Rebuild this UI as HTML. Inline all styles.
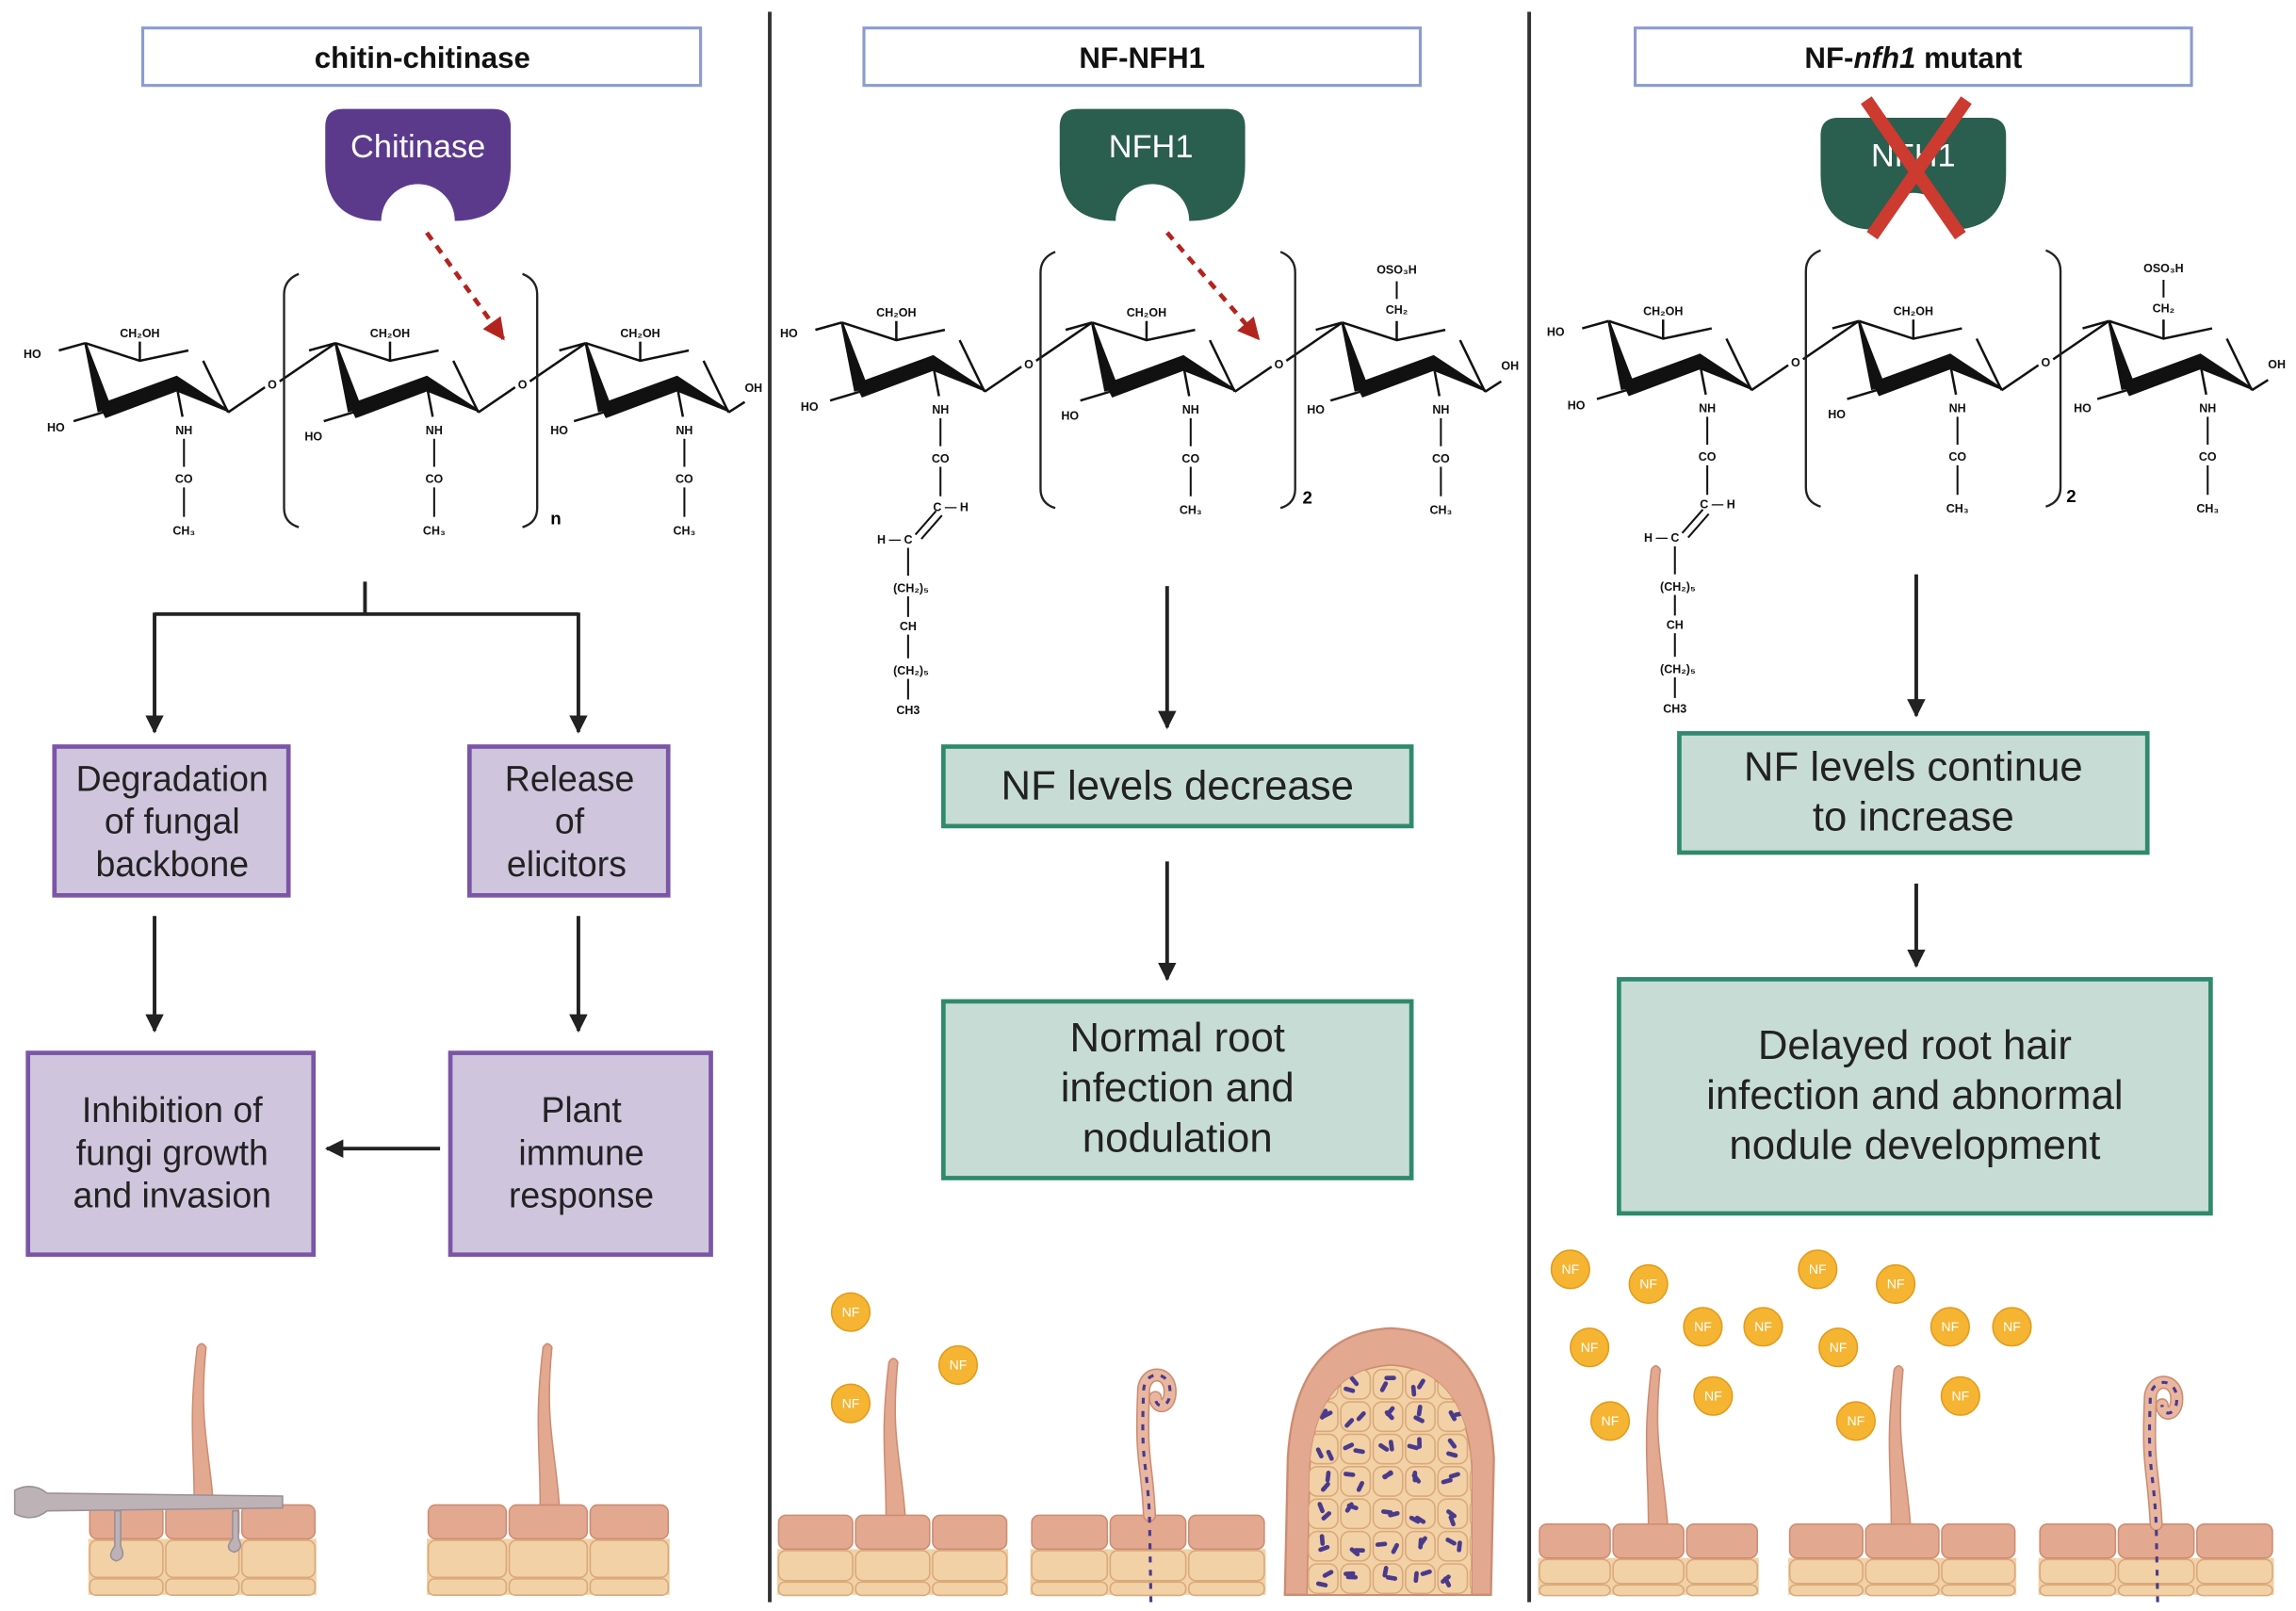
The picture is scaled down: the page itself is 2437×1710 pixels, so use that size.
<!DOCTYPE html>
<html><head><meta charset="utf-8"><style>
html,body{margin:0;padding:0;background:#fff;}
svg{display:block;}
text{font-family:"Liberation Sans",sans-serif;}
.ch{font-size:8px;font-weight:bold;fill:#111;text-anchor:middle;}
.bx{font-size:24px;fill:#222;text-anchor:middle;}
.hd{font-size:20px;font-weight:bold;fill:#111;text-anchor:middle;}
.nf{font-size:9px;fill:#fff;text-anchor:middle;}
</style></head><body>
<svg width="2437" height="1710" viewBox="0 0 1560 1094" preserveAspectRatio="none" xmlns="http://www.w3.org/2000/svg">
<defs>
<marker id="ah" viewBox="0 0 10 10" refX="9" refY="5" markerWidth="5" markerHeight="5" orient="auto"><path d="M0,0 L10,5 L0,10 Z" fill="#222"/></marker>
<marker id="rh" viewBox="0 0 10 10" refX="9" refY="5" markerWidth="5" markerHeight="5" orient="auto"><path d="M0,0 L10,5 L0,10 Z" fill="#b3241f"/></marker>
<clipPath id="nclip"><path d="M888,1083 L890,995 Q895,930 945,927 Q995,930 1000,995 L1000,1083 Z"/></clipPath>
<g id="ring" stroke="#111" stroke-width="1.6" fill="none">
<path d="M0,0 L37,12 L70,5"/>
<path d="M80,12 L97,47"/>
<path d="M0,0 L9,46 L17,44 Z" fill="#111"/>
<path d="M10,42 L62,23 L97,46 L62,32 L14,50 Z" fill="#111"/>
<path d="M-18,5 L0,0"/><path d="M12,47 L-8,53"/>
<path d="M37,12 L37,-1"/><path d="M62,29 L66,50"/>
</g>
<g id="sub" stroke="#111" stroke-width="1.3"><path d="M67,65 L67,84 M67,98 L67,118"/></g>
</defs>

<line x1="523" y1="8" x2="523" y2="1088" stroke="#333" stroke-width="2.5"/>
<line x1="1039" y1="8" x2="1039" y2="1088" stroke="#333" stroke-width="2.5"/>

<rect x="97" y="19" width="379" height="39" fill="#fff" stroke="#8c9bd0" stroke-width="2"/>
<text class="hd" x="287" y="46">chitin-chitinase</text>
<rect x="587" y="19" width="378" height="39" fill="#fff" stroke="#8c9bd0" stroke-width="2"/>
<text class="hd" x="776" y="46">NF-NFH1</text>
<rect x="1111" y="19" width="378" height="39" fill="#fff" stroke="#8c9bd0" stroke-width="2"/>
<text class="hd" x="1300" y="46">NF-<tspan font-style="italic">nfh1</tspan> mutant</text>

<path transform="translate(221,74)" d="M12,0 H114 Q126,0 126,12 V38 Q126,76 88,76 A25,25 0 0 0 38,76 Q0,76 0,38 V12 Q0,0 12,0 Z" fill="#5b3a8c"/>
<text x="284" y="107" font-size="22" fill="#fff" text-anchor="middle">Chitinase</text>
<path transform="translate(720,74)" d="M12,0 H114 Q126,0 126,12 V38 Q126,76 88,76 A25,25 0 0 0 38,76 Q0,76 0,38 V12 Q0,0 12,0 Z" fill="#2a5e4e"/>
<text x="782" y="107" font-size="22" fill="#fff" text-anchor="middle">NFH1</text>
<path transform="translate(1237,80)" d="M12,0 H114 Q126,0 126,12 V38 Q126,76 88,76 A25,25 0 0 0 38,76 Q0,76 0,38 V12 Q0,0 12,0 Z" fill="#2a5e4e"/>
<text x="1300" y="113" font-size="22" fill="#fff" text-anchor="middle">NFH1</text>
<path d="M1268,68 L1332,160 M1336,68 L1272,160" stroke="#cc3a30" stroke-width="9"/>

<line x1="290" y1="158" x2="342" y2="230" stroke="#b3241f" stroke-width="3" stroke-dasharray="6,5" marker-end="url(#rh)"/>
<line x1="793" y1="158" x2="855" y2="230" stroke="#b3241f" stroke-width="3" stroke-dasharray="6,5" marker-end="url(#rh)"/>

<g transform="translate(58,233)"><use href="#ring"/><use href="#sub"/>
<text class="ch" x="37" y="-4">CH₂OH</text><text class="ch" x="-36" y="10">HO</text><text class="ch" x="-20" y="60">HO</text>
<text class="ch" x="67" y="62">NH</text><text class="ch" x="67" y="95">CO</text><text class="ch" x="67" y="130">CH₃</text>
<path d="M97,47 L122,30 M132,26 L170,0" stroke="#111" stroke-width="1.6"/><text class="ch" x="127" y="31">O</text></g>
<g transform="translate(228,233)"><use href="#ring"/><use href="#sub"/>
<text class="ch" x="37" y="-4">CH₂OH</text><text class="ch" x="-15" y="66">HO</text>
<text class="ch" x="67" y="62">NH</text><text class="ch" x="67" y="95">CO</text><text class="ch" x="67" y="130">CH₃</text>
<path d="M97,47 L122,30 M132,26 L170,0" stroke="#111" stroke-width="1.6"/><text class="ch" x="127" y="31">O</text></g>
<g transform="translate(398,233)"><use href="#ring"/><use href="#sub"/>
<text class="ch" x="37" y="-4">CH₂OH</text><text class="ch" x="-18" y="62">HO</text>
<text class="ch" x="67" y="62">NH</text><text class="ch" x="67" y="95">CO</text><text class="ch" x="67" y="130">CH₃</text>
<path d="M97,47 L108,40" stroke="#111" stroke-width="1.6"/><text class="ch" x="114" y="33">OH</text></g>
<path d="M203,186 Q193,190 193,200 V345 Q193,355 203,358 M355,186 Q365,190 365,200 V345 Q365,355 355,358" stroke="#222" stroke-width="1.5" fill="none"/>
<text x="374" y="356" font-size="12" font-weight="bold">n</text>

<g transform="translate(572,219)"><use href="#ring"/>
<text class="ch" x="37" y="-4">CH₂OH</text><text class="ch" x="-36" y="10">HO</text><text class="ch" x="-22" y="60">HO</text>
<text class="ch" x="67" y="62">NH</text><text class="ch" x="67" y="95">CO</text>
<path d="M67,65 L67,84 M67,98 L67,118" stroke="#111" stroke-width="1.3"/>
<text class="ch" x="74" y="128">C — H</text>
<path d="M64,128 L50,144 M68,131 L54,147" stroke="#111" stroke-width="1.3"/>
<text class="ch" x="36" y="150">H — C</text>
<path d="M45,153 L45,172 M45,186 L45,200 M45,212 L45,228 M45,242 L45,256" stroke="#111" stroke-width="1.3"/>
<text class="ch" x="47" y="183">(CH₂)₅</text><text class="ch" x="45" y="209">CH</text><text class="ch" x="47" y="239">(CH₂)₅</text><text class="ch" x="45" y="266">CH3</text>
<path d="M97,47 L122,30 M132,26 L170,0" stroke="#111" stroke-width="1.6"/><text class="ch" x="127" y="31">O</text></g>
<g transform="translate(742,219)"><use href="#ring"/><use href="#sub"/>
<text class="ch" x="37" y="-4">CH₂OH</text><text class="ch" x="-15" y="66">HO</text>
<text class="ch" x="67" y="62">NH</text><text class="ch" x="67" y="95">CO</text><text class="ch" x="67" y="130">CH₃</text>
<path d="M97,47 L122,30 M132,26 L170,0" stroke="#111" stroke-width="1.6"/><text class="ch" x="127" y="31">O</text></g>
<g transform="translate(912,219)"><use href="#ring"/><use href="#sub"/>
<text class="ch" x="37" y="-6">CH₂</text><path d="M37,-16 L37,-28" stroke="#111" stroke-width="1.3"/><text class="ch" x="37" y="-33">OSO₃H</text>
<text class="ch" x="-18" y="62">HO</text>
<text class="ch" x="67" y="62">NH</text><text class="ch" x="67" y="95">CO</text><text class="ch" x="67" y="130">CH₃</text>
<path d="M97,47 L108,40" stroke="#111" stroke-width="1.6"/><text class="ch" x="114" y="32">OH</text></g>
<path d="M717,171 Q707,175 707,185 V332 Q707,342 717,345 M870,171 Q880,175 880,185 V332 Q880,342 870,345" stroke="#222" stroke-width="1.5" fill="none"/>
<text x="885" y="342" font-size="12" font-weight="bold">2</text>

<g transform="translate(1093,218)"><use href="#ring"/>
<text class="ch" x="37" y="-4">CH₂OH</text><text class="ch" x="-36" y="10">HO</text><text class="ch" x="-22" y="60">HO</text>
<text class="ch" x="67" y="62">NH</text><text class="ch" x="67" y="95">CO</text>
<path d="M67,65 L67,84 M67,98 L67,118" stroke="#111" stroke-width="1.3"/>
<text class="ch" x="74" y="127">C — H</text>
<path d="M64,128 L50,144 M68,131 L54,147" stroke="#111" stroke-width="1.3"/>
<text class="ch" x="36" y="150">H — C</text>
<path d="M45,153 L45,172 M45,186 L45,200 M45,212 L45,228 M45,242 L45,256" stroke="#111" stroke-width="1.3"/>
<text class="ch" x="47" y="183">(CH₂)₅</text><text class="ch" x="45" y="209">CH</text><text class="ch" x="47" y="239">(CH₂)₅</text><text class="ch" x="45" y="266">CH3</text>
<path d="M97,47 L122,30 M132,26 L170,0" stroke="#111" stroke-width="1.6"/><text class="ch" x="127" y="31">O</text></g>
<g transform="translate(1263,218)"><use href="#ring"/><use href="#sub"/>
<text class="ch" x="37" y="-4">CH₂OH</text><text class="ch" x="-15" y="66">HO</text>
<text class="ch" x="67" y="62">NH</text><text class="ch" x="67" y="95">CO</text><text class="ch" x="67" y="130">CH₃</text>
<path d="M97,47 L122,30 M132,26 L170,0" stroke="#111" stroke-width="1.6"/><text class="ch" x="127" y="31">O</text></g>
<g transform="translate(1433,218)"><use href="#ring"/><use href="#sub"/>
<text class="ch" x="37" y="-6">CH₂</text><path d="M37,-16 L37,-28" stroke="#111" stroke-width="1.3"/><text class="ch" x="37" y="-33">OSO₃H</text>
<text class="ch" x="-18" y="62">HO</text>
<text class="ch" x="67" y="62">NH</text><text class="ch" x="67" y="95">CO</text><text class="ch" x="67" y="130">CH₃</text>
<path d="M97,47 L108,40" stroke="#111" stroke-width="1.6"/><text class="ch" x="114" y="32">OH</text></g>
<path d="M1237,170 Q1227,174 1227,184 V331 Q1227,341 1237,344 M1390,170 Q1400,174 1400,184 V331 Q1400,341 1390,344" stroke="#222" stroke-width="1.5" fill="none"/>
<text x="1404" y="341" font-size="12" font-weight="bold">2</text>

<g stroke="#222" stroke-width="2.5" fill="none">
<path d="M248,395 V417 M105,417 H393"/>
<path d="M105,416 V497" marker-end="url(#ah)"/>
<path d="M393,416 V497" marker-end="url(#ah)"/>
<path d="M105,622 V700" marker-end="url(#ah)"/>
<path d="M393,622 V700" marker-end="url(#ah)"/>
<path d="M299,780 H222" marker-end="url(#ah)"/>
<path d="M793,398 V494" marker-end="url(#ah)"/>
<path d="M793,585 V665" marker-end="url(#ah)"/>
<path d="M1302,390 V486" marker-end="url(#ah)"/>
<path d="M1302,600 V656" marker-end="url(#ah)"/>
</g>
<g fill="#cfc6de" stroke="#7b55a6" stroke-width="3">
<rect x="37" y="507" width="159" height="101"/><rect x="319" y="507" width="135" height="101"/>
<rect x="19" y="715" width="194" height="137"/><rect x="306" y="715" width="177" height="137"/>
</g>
<text class="bx" x="117" y="537">Degradation</text><text class="bx" x="117" y="566">of fungal</text><text class="bx" x="117" y="595">backbone</text>
<text class="bx" x="387" y="537">Release</text><text class="bx" x="387" y="566">of</text><text class="bx" x="385" y="595">elicitors</text>
<text class="bx" x="117" y="762">Inhibition of</text><text class="bx" x="117" y="791">fungi growth</text><text class="bx" x="117" y="820">and invasion</text>
<text class="bx" x="395" y="762">Plant</text><text class="bx" x="395" y="791">immune</text><text class="bx" x="395" y="820">response</text>

<g fill="#c8dcd6" stroke="#2f8a6c" stroke-width="3">
<rect x="641" y="507" width="318" height="54"/><rect x="641" y="680" width="318" height="120"/>
<rect x="1141" y="498" width="318" height="81"/><rect x="1100" y="665" width="402" height="159"/>
</g>
<text class="bx" x="800" y="543" style="font-size:28px">NF levels decrease</text>
<text class="bx" x="800" y="714" style="font-size:28px">Normal root</text>
<text class="bx" x="800" y="748" style="font-size:28px">infection and</text>
<text class="bx" x="800" y="782" style="font-size:28px">nodulation</text>
<text class="bx" x="1300" y="530" style="font-size:28px">NF levels continue</text>
<text class="bx" x="1300" y="564" style="font-size:28px">to increase</text>
<text class="bx" x="1301" y="719" style="font-size:28px">Delayed root hair</text>
<text class="bx" x="1301" y="753" style="font-size:28px">infection and abnormal</text>
<text class="bx" x="1301" y="787" style="font-size:28px">nodule development</text>

<g id="tissues"></g>
<g id="nod"></g>

<g fill="#f5b533" stroke="#e39b1c" stroke-width="1">
<circle cx="578" cy="891" r="13"/><circle cx="651" cy="927" r="13"/><circle cx="578" cy="953" r="13"/>
<circle cx="1067" cy="862" r="13"/><circle cx="1120" cy="872" r="13"/><circle cx="1235" cy="862" r="13"/><circle cx="1288" cy="872" r="13"/>
<circle cx="1157" cy="901" r="13"/><circle cx="1198" cy="901" r="13"/><circle cx="1325" cy="901" r="13"/><circle cx="1367" cy="901" r="13"/>
<circle cx="1080" cy="915" r="13"/><circle cx="1249" cy="915" r="13"/><circle cx="1164" cy="948" r="13"/><circle cx="1332" cy="948" r="13"/>
<circle cx="1094" cy="965" r="13"/><circle cx="1261" cy="965" r="13"/>
</g>
<text class="nf" x="578" y="894">NF</text><text class="nf" x="651" y="930">NF</text><text class="nf" x="578" y="956">NF</text>
<text class="nf" x="1067" y="865">NF</text><text class="nf" x="1120" y="875">NF</text><text class="nf" x="1235" y="865">NF</text><text class="nf" x="1288" y="875">NF</text>
<text class="nf" x="1157" y="904">NF</text><text class="nf" x="1198" y="904">NF</text><text class="nf" x="1325" y="904">NF</text><text class="nf" x="1367" y="904">NF</text>
<text class="nf" x="1080" y="918">NF</text><text class="nf" x="1249" y="918">NF</text><text class="nf" x="1164" y="951">NF</text><text class="nf" x="1332" y="951">NF</text>
<text class="nf" x="1094" y="968">NF</text><text class="nf" x="1261" y="968">NF</text>
</svg>
<script>
(function(){
var NS="http://www.w3.org/2000/svg";
var T=document.getElementById("tissues");
function el(n,a,p){var e=document.createElementNS(NS,n);for(var k in a)e.setAttribute(k,a[k]);(p||T).appendChild(e);return e;}
function tissue(x0,x1,ey){
  var w=(x1-x0)/3, h=1083-ey-24;
  el("rect",{x:x0,y:ey+23,width:x1-x0,height:h+1,fill:"#f2d1a6"});
  for(var i=0;i<3;i++){
    el("rect",{x:x0+i*w+1,y:ey,width:w-2,height:23,rx:5,fill:"#e3a890",stroke:"#cd8c72","stroke-width":1});
    el("rect",{x:x0+i*w+1,y:ey+24,width:w-2,height:h*0.68,rx:5,fill:"#f2d1a6",stroke:"#d9a97a","stroke-width":1});
    el("rect",{x:x0+i*w+1,y:ey+25+h*0.68,width:w-2,height:h*0.3,rx:4,fill:"#f2d1a6",stroke:"#d9a97a","stroke-width":1});
  }
}
function hair(bx,by,ty){
  var d="M"+(bx-5)+","+by+" C"+(bx-5)+","+(by-40)+" "+(bx-9)+","+(ty+50)+" "+(bx-3)+","+ty+" Q"+bx+","+(ty-5)+" "+(bx+3)+","+ty+" C"+(bx-2)+","+(ty+50)+" "+(bx+5)+","+(by-40)+" "+(bx+8)+","+by+" Z";
  el("path",{d:d,fill:"#e3a890",stroke:"#cd8c72","stroke-width":1});
}
function curl(bx,by,ty){
  var d="M"+bx+","+by+" C"+(bx-2)+","+(by-40)+" "+(bx-6)+","+(ty+60)+" "+(bx-4)+","+(ty+10)+" C"+(bx-4)+","+(ty-5)+" "+(bx+14)+","+(ty-5)+" "+(bx+14)+","+(ty+10)+" C"+(bx+14)+","+(ty+22)+" "+(bx+4)+","+(ty+22)+" "+(bx+4)+","+(ty+14);
  el("path",{d:d,fill:"none",stroke:"#cd8c72","stroke-width":9,"stroke-linecap":"round"});
  el("path",{d:d,fill:"none",stroke:"#e9b7a0","stroke-width":7,"stroke-linecap":"round"});
  el("path",{d:"M"+(bx+1)+",1088 L"+bx+","+by+" "+d.slice(d.indexOf("C")),fill:"none",stroke:"#4a3a8c","stroke-width":2,"stroke-dasharray":"4,5"});
}
tissue(60,215,1022); tissue(290,455,1022);
tissue(528,685,1029); tissue(700,860,1029);
tissue(1045,1195,1035); tissue(1215,1370,1035); tissue(1385,1545,1035);
hair(137,1022,915); hair(372,1022,915);
hair(607,1029,925); hair(1125,1035,930); hair(1290,1035,930);
curl(781,1029,935); curl(1465,1035,940);
el("path",{d:"M10,1012 Q22,1006 32,1014 L192,1016 L192,1024 L32,1026 Q22,1034 10,1028 Z",fill:"#bdb3b7",stroke:"#9a9096","stroke-width":1});
el("path",{d:"M78,1026 V1050 Q72,1058 79,1060 Q86,1058 82,1050 V1026 Z",fill:"#bdb3b7",stroke:"#9a9096"});
el("path",{d:"M158,1026 V1045 Q152,1052 159,1054 Q166,1052 162,1045 V1026 Z",fill:"#bdb3b7",stroke:"#9a9096"});
var N=document.getElementById("nod");
el("path",{d:"M873,1083 L875,990 Q880,905 945,902 Q1010,905 1015,990 L1013,1083 Z",fill:"#e3a890",stroke:"#cd8c72","stroke-width":1.5},N);
el("path",{d:"M888,1083 L890,995 Q895,930 945,927 Q995,930 1000,995 L1000,1083 Z",fill:"#f2d1a6",stroke:"#cd8c72","stroke-width":1},N);
var G=el("g",{"clip-path":"url(#nclip)"},N);
var seed=7;function r(){seed=(seed*9301+49297)%233280;return seed/233280;}
for(var y=930;y<1083;y+=22){for(var x=889;x<1000;x+=22){
  el("rect",{x:x,y:y,width:20,height:20,rx:6,fill:"#f2d1a6",stroke:"#d9a97a","stroke-width":1},G);
  for(var k=0;k<2;k++){var bx=x+5+r()*10,by=y+5+r()*10,a=r()*180;
   el("rect",{x:bx-1.5,y:by-4,width:3,height:8,rx:1.5,fill:"#4a3a8c",transform:"rotate("+a+" "+bx+" "+by+")"},G);}
}}
})();
</script>
</body></html>
